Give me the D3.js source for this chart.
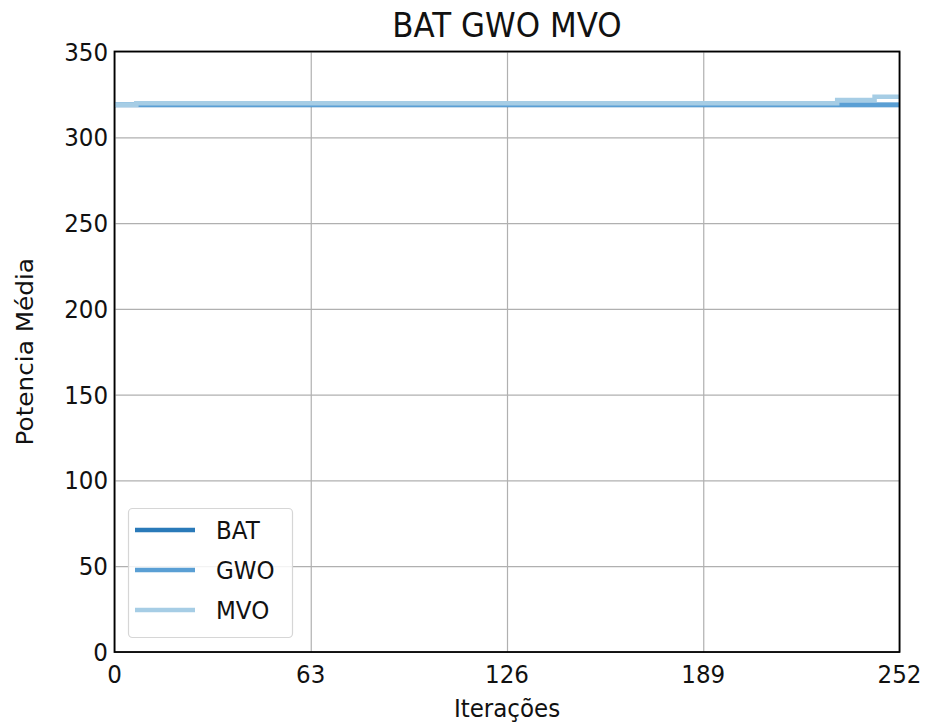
<!DOCTYPE html>
<html>
<head>
<meta charset="utf-8">
<script src="https://cdn.jsdelivr.net/npm/d3@7"></script>
<style>
  html, body { margin: 0; padding: 0; background: #ffffff; }
  svg { display: block; font-family: "DejaVu Sans", sans-serif; }
</style>
</head>
<body>
<svg id="chart" width="928" height="727"></svg>
<script>
// ---- data (step changes of each convergence curve) ----
const title = "BAT GWO MVO";
const xLabel = "Iterações";
const yLabel = "Potencia Média";
const seriesNames = ["BAT", "GWO", "MVO"];
const batIters = [0, 252];
const batValues = [318.8, 318.8];
const gwoIters = [0, 252];
const gwoValues = [319.0, 319.0];
const mvoIters = [0, 7, 232, 244, 252];
const mvoValues = [319.0, 319.8, 321.8, 323.6, 323.6];
const xTicks = [0, 63, 126, 189, 252];
const yTicks = [0, 50, 100, 150, 200, 250, 300, 350];
const colors = ["#2a7ab9", "#5a9fd4", "#a6cde5"];

// ---- layout ----
const svg = d3.select("#chart");
const L = 114.5, R = 899.5, T = 51.5, B = 652;
const SY = 1.1; // vertical stretch of text seen in reference
const x = d3.scaleLinear().domain([0, 252]).range([L, R]);
const y = d3.scaleLinear().domain([0, 350]).range([B, T]);

// grid
svg.append("g").attr("transform", `translate(0,${B})`)
  .call(d3.axisBottom(x).tickValues(xTicks).tickSize(-(B - T)).tickFormat(""))
  .call(g => g.select(".domain").remove())
  .call(g => g.selectAll("line").attr("stroke", "#b0b0b0").attr("stroke-width", 1.2));
svg.append("g").attr("transform", `translate(${L},0)`)
  .call(d3.axisLeft(y).tickValues(yTicks).tickSize(-(R - L)).tickFormat(""))
  .call(g => g.select(".domain").remove())
  .call(g => g.selectAll("line").attr("stroke", "#b0b0b0").attr("stroke-width", 1.2));

// lines
const data = [
  {name: seriesNames[0], it: batIters, v: batValues},
  {name: seriesNames[1], it: gwoIters, v: gwoValues},
  {name: seriesNames[2], it: mvoIters, v: mvoValues}
];
const line = d3.line().x(d => x(d[0])).y(d => y(d[1])).curve(d3.curveStepAfter);
svg.append("g").selectAll("path").data(data).join("path")
  .attr("d", d => line(d.it.map((t, i) => [t, d.v[i]])))
  .attr("fill", "none")
  .attr("stroke", (d, i) => colors[i])
  .attr("stroke-width", 4.5);

// frame
svg.append("rect").attr("x", L).attr("y", T).attr("width", R - L).attr("height", B - T)
  .attr("fill", "none").attr("stroke", "#000").attr("stroke-width", 1.8);

function stretched(g, txt, px, py, size, anchor) {
  return g.append("text")
    .attr("transform", `translate(${px},${py}) scale(1,${SY})`)
    .attr("text-anchor", anchor)
    .attr("font-size", size)
    .attr("fill", "#111")
    .text(txt);
}

// tick labels
const tl = svg.append("g");
xTicks.forEach(t => stretched(tl, String(t), x(t), 683, 23, "middle"));
yTicks.forEach(t => stretched(tl, String(t), 108, y(t) + 9, 23, "end"));

// titles
stretched(svg, title, (L + R) / 2, 37, 31, "middle");
stretched(svg, xLabel, (L + R) / 2, 717, 23, "middle");
svg.append("text")
  .attr("transform", `translate(33,${(T + B) / 2}) rotate(-90) scale(${SY},1)`)
  .attr("text-anchor", "middle")
  .attr("font-size", 22.5)
  .attr("fill", "#111")
  .text(yLabel);

// legend
const lg = svg.append("g");
lg.append("rect").attr("x", 128.5).attr("y", 508.5).attr("width", 164).attr("height", 129)
  .attr("rx", 4).attr("fill", "#fff").attr("fill-opacity", 0.85)
  .attr("stroke", "#d6d6d6").attr("stroke-width", 1.2);
seriesNames.forEach((n, i) => {
  const cy = 530 + i * 40;
  lg.append("line").attr("x1", 135).attr("x2", 195).attr("y1", cy).attr("y2", cy)
    .attr("stroke", colors[i]).attr("stroke-width", 4.5);
  stretched(lg, n, 216, cy + 8.5, 23, "start");
});
</script>
</body>
</html>
